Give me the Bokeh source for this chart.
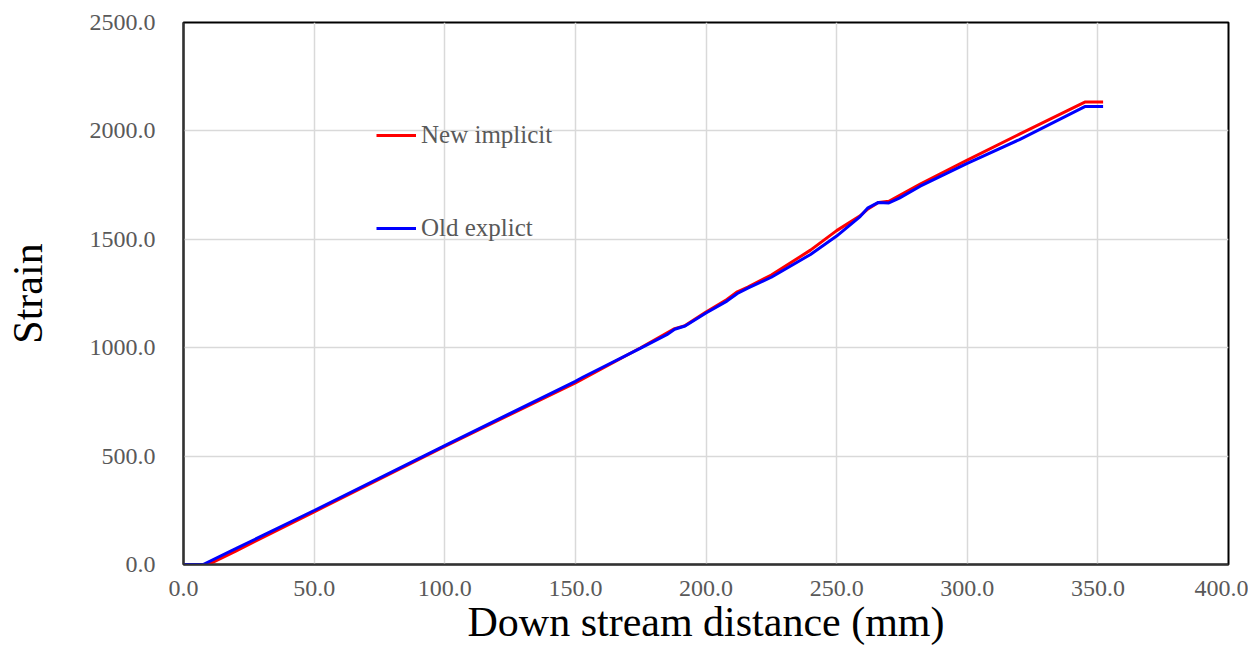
from bokeh.plotting import figure
from bokeh.models import Range1d, FixedTicker, NumeralTickFormatter, Legend, LegendItem
from bokeh.embed import file_html
from bokeh.resources import INLINE

# Data
new_x = [0, 9.5, 20, 50, 100, 150, 175, 188, 192, 200, 208, 212, 216, 225, 240, 250, 259, 262, 266, 270, 282, 300, 320, 345, 352]
new_y = [0, 0, 62, 243, 545, 838, 1000, 1088, 1102, 1165, 1222, 1258, 1280, 1335, 1450, 1540, 1608, 1640, 1670, 1675, 1755, 1865, 1985, 2133, 2133]

old_x = [0, 7.5, 20, 50, 100, 150, 153, 175, 185, 188, 192, 200, 208, 212, 216, 225, 240, 250, 259, 262, 266, 270, 274, 282, 300, 320, 345, 352]
old_y = [0, 0, 73, 249, 548, 845, 865, 998, 1060, 1085, 1100, 1160, 1215, 1250, 1275, 1325, 1430, 1515, 1605, 1645, 1670, 1668, 1690, 1745, 1850, 1960, 2112, 2112]

x_ticks = [0, 50, 100, 150, 200, 250, 300, 350, 400]
y_ticks = [0, 500, 1000, 1500, 2000, 2500]

SERIF = "Liberation Serif"
GRAY = "#595959"

p = figure(width=1248, height=650, output_backend="svg", toolbar_location=None,
           x_range=Range1d(0, 400), y_range=Range1d(0, 2500),
           min_border_left=183, min_border_right=20, min_border_top=22, min_border_bottom=86)

r_new = p.line(new_x, new_y, line_color="#FF0000", line_width=3)
r_old = p.line(old_x, old_y, line_color="#0000FF", line_width=3)

p.xaxis.ticker = FixedTicker(ticks=x_ticks)
p.yaxis.ticker = FixedTicker(ticks=y_ticks)
p.xaxis.formatter = NumeralTickFormatter(format="0.0")
p.yaxis.formatter = NumeralTickFormatter(format="0.0")

for ax in (p.xaxis, p.yaxis):
    ax.major_tick_in = 0
    ax.major_tick_out = 0
    ax.minor_tick_in = 0
    ax.minor_tick_out = 0
    ax.axis_line_color = "#333333"
    ax.axis_line_width = 2
    ax.major_label_text_font = SERIF
    ax.major_label_text_font_size = "24px"
    ax.major_label_text_color = GRAY
    ax.axis_label_text_font = SERIF
    ax.axis_label_text_font_size = "42px"
    ax.axis_label_text_font_style = "normal"
    ax.axis_label_text_color = "black"

p.xaxis.axis_label = "Down stream distance (mm)"
p.yaxis.axis_label = "Strain"
p.xaxis.major_label_standoff = 16
p.yaxis.major_label_standoff = 28
p.xaxis.axis_label_standoff = 0
p.yaxis.axis_label_standoff = 36

p.xgrid.grid_line_color = "#d9d9d9"
p.ygrid.grid_line_color = "#d9d9d9"
p.xgrid.grid_line_width = 1.5
p.ygrid.grid_line_width = 1.5

p.outline_line_color = "black"
p.outline_line_width = 2
p.outline_line_alpha = 1

legend = Legend(items=[LegendItem(label="New implicit", renderers=[r_new]),
                       LegendItem(label="Old explict", renderers=[r_old])],
                location=(193, 322), orientation="vertical",
                glyph_width=40, glyph_height=20, label_standoff=5, spacing=65,
                padding=0, margin=0, border_line_alpha=0, background_fill_alpha=0,
                label_text_font=SERIF, label_text_font_size="25px", label_text_color=GRAY)
p.add_layout(legend)

open("out.html", "w").write(file_html(p, INLINE))
